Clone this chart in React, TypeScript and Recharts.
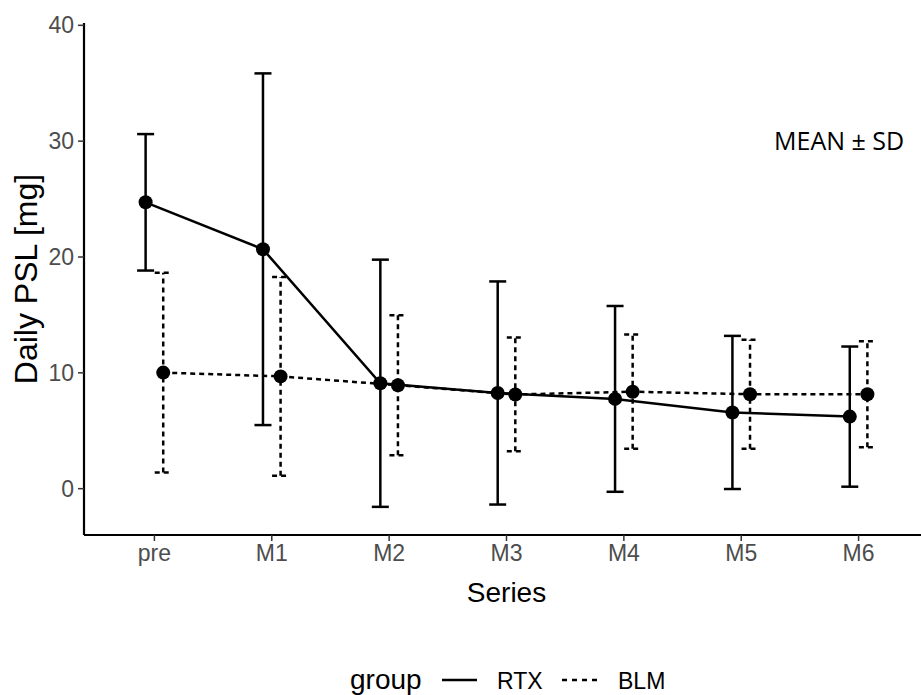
import React from 'react';
import { LineChart, Line, XAxis, YAxis, ErrorBar, Label } from 'recharts';

const categories = ['pre', 'M1', 'M2', 'M3', 'M4', 'M5', 'M6'];
const rtxMean = [24.72, 20.67, 9.1, 8.26, 7.75, 6.58, 6.22];
const rtxSd = [5.89, 15.18, 10.67, 9.63, 8.02, 6.61, 6.05];
const blmMean = [10.02, 9.69, 8.93, 8.13, 8.37, 8.15, 8.15];
const blmSd = [8.63, 8.58, 6.04, 4.91, 4.93, 4.7, 4.57];
const yTicks = [0, 10, 20, 30, 40];
const xTicks = [1, 2, 3, 4, 5, 6, 7];
const groupNames = ['RTX', 'BLM'];
const dodge = 0.075;

const rtxData = categories.map((c, i) => ({ cat: c, x: i + 1 - dodge, y: rtxMean[i], err: rtxSd[i] }));
const blmData = categories.map((c, i) => ({ cat: c, x: i + 1 + dodge, y: blmMean[i], err: blmSd[i] }));

const FONT = '"Liberation Sans", Arial, sans-serif';

const YTitle = (props: any) => {
  const vb = props.viewBox || { x: 0, y: 23, width: 84, height: 512 };
  const cx = vb.x + 26;
  const cy = vb.y + vb.height / 2;
  return (
    <text x={cx} y={cy} transform={`rotate(-90 ${cx} ${cy})`} textAnchor="middle" dominantBaseline="central"
      fontFamily={FONT} fontSize={32} fill="#000">Daily PSL [mg]</text>
  );
};

const XTitle = (props: any) => {
  const vb = props.viewBox || { x: 84, y: 535, width: 845, height: 160 };
  const cx = vb.x + vb.width / 2;
  return (
    <text x={cx} y={vb.y + 67} textAnchor="middle" fontFamily={FONT} fontSize={28} fill="#000">Series</text>
  );
};

export default function App() {
  return (
    <div style={{ position: 'absolute', left: 0, top: 0, width: 921, height: 695, overflow: 'hidden', background: '#fff' }}>
      <LineChart width={930} height={695} margin={{ top: 23, right: 1, left: 0, bottom: 0 }}>
        <XAxis type="number" dataKey="x" domain={[0.4, 7.6]} ticks={xTicks} allowDataOverflow
          tickFormatter={(v: number) => categories[v - 1]}
          tick={{ fill: '#4d4d4d', fontSize: 23, fontFamily: FONT }}
          tickSize={6} tickMargin={4} height={160}
          axisLine={{ stroke: '#000', strokeWidth: 2.2 }} tickLine={{ stroke: '#333', strokeWidth: 1.5 }}>
          <Label content={XTitle} />
        </XAxis>
        <YAxis type="number" domain={[-4, 40.2]} ticks={yTicks} allowDataOverflow width={84}
          tick={{ fill: '#4d4d4d', fontSize: 23, fontFamily: FONT }}
          tickSize={6} tickMargin={4}
          axisLine={{ stroke: '#000', strokeWidth: 2.2 }} tickLine={{ stroke: '#333', strokeWidth: 1.5 }}>
          <Label content={YTitle} />
        </YAxis>
        <Line data={rtxData} dataKey="y" name={groupNames[0]} stroke="#000" strokeWidth={2.5} isAnimationActive={false}
          dot={{ r: 7, fill: '#000', stroke: 'none' }} activeDot={false}>
          <ErrorBar dataKey="err" direction="y" width={8.5} stroke="#000" strokeWidth={2.5} isAnimationActive={false} />
        </Line>
        <Line data={blmData} dataKey="y" name={groupNames[1]} stroke="#000" strokeWidth={2.5} strokeDasharray="5 4"
          isAnimationActive={false} dot={{ r: 7, fill: '#000', stroke: 'none', strokeDasharray: '0' }} activeDot={false}>
          <ErrorBar dataKey="err" direction="y" width={8.5} stroke="#000" strokeWidth={2.5} strokeDasharray="5 4" isAnimationActive={false} />
        </Line>
      </LineChart>
      <svg width={921} height={695} style={{ position: 'absolute', left: 0, top: 0, pointerEvents: 'none' }}>
        <text x={774} y={150} fontFamily='"Open Sans", "Noto Sans", sans-serif' fontSize={25} fill="#000">MEAN ± SD</text>
        <text x={350} y={689} fontFamily={FONT} fontSize={28} fill="#000">group</text>
        <line x1={442} x2={477} y1={680} y2={680} stroke="#000" strokeWidth={2.5} />
        <text x={497} y={689} fontFamily={FONT} fontSize={23} fill="#000">{groupNames[0]}</text>
        <line x1={562} x2={597} y1={680} y2={680} stroke="#000" strokeWidth={2.5} strokeDasharray="5 5" />
        <text x={618} y={689} fontFamily={FONT} fontSize={23} fill="#000">{groupNames[1]}</text>
      </svg>
    </div>
  );
}
